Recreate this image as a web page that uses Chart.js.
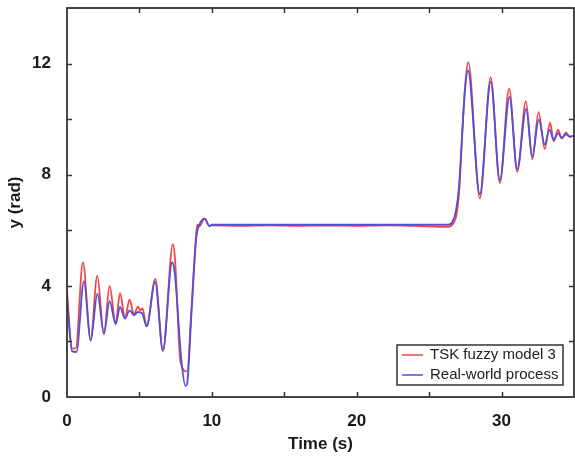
<!DOCTYPE html>
<html>
<head>
<meta charset="utf-8">
<script src="https://cdn.jsdelivr.net/npm/chart.js@4.4.1/dist/chart.umd.min.js"></script>
<style>
    html, body { margin: 0; padding: 0; background: #fff; }
    #wrap { width: 575px; height: 457px; }
</style>
</head>
<body>
<div id="wrap"><canvas id="chart"></canvas></div>
<script>
// 데이터
const tskTime = [0, 0.35, 0.6, 1.1, 1.63, 2.09, 2.55, 2.94, 3.36, 3.66, 4.0, 4.32, 4.62, 4.9, 5.05, 5.2, 5.5,
    6.1, 6.62, 7.31, 7.45, 7.84, 8.3, 8.58, 8.92, 9.0, 9.15, 9.5, 9.84, 10,
    12, 14, 16, 18, 20, 22, 24, 26.3,
    26.6, 26.9, 27.1, 27.3, 27.5, 27.7, 28.5, 29.25, 29.88, 30.52, 31.08, 31.68, 32.12, 32.55, 32.98,
    33.35, 33.6, 33.9, 34.15, 34.45, 34.7, 35];
const tskValues = [3.8, 1.75, 1.75, 4.85, 2.05, 4.37, 2.25, 4.0, 2.65, 3.74, 2.85, 3.5, 2.98, 3.25, 3.12, 3.2, 2.55,
    4.25, 1.65, 5.5, 5.0, 1.25, 0.92, 3.1, 5.9, 6.2, 6.15, 6.42, 6.15, 6.18,
    6.16, 6.18, 6.16, 6.17, 6.16, 6.18, 6.16, 6.12,
    6.2, 6.6, 7.6, 9.6, 11.3, 12.05, 7.15, 11.5, 7.7, 11.1, 8.1, 10.65, 8.55, 10.25, 8.93,
    9.87, 9.2, 9.62, 9.3, 9.52, 9.35, 9.42];

const realTime = [0, 0.35, 0.65, 1.17, 1.63, 2.1, 2.55, 2.94, 3.36, 3.66, 4.0, 4.32, 4.62, 4.9, 5.2, 5.5,
    6.08, 6.62, 7.26, 7.45, 7.9, 8.18, 8.3, 8.58, 8.92, 9.1, 9.5, 9.84, 10,
    12, 14, 16, 18, 20, 22, 24, 26.3,
    26.6, 26.85, 27.05, 27.25, 27.45, 27.68, 28.5, 29.25, 29.88, 30.55, 31.08, 31.7, 32.12, 32.57, 32.98,
    33.3, 33.6, 33.9, 34.15, 34.45, 34.7, 35];
const realValues = [3.55, 1.65, 1.62, 4.17, 2.02, 3.72, 2.29, 3.45, 2.62, 3.24, 2.82, 3.12, 2.94, 3.06, 3.0, 2.54,
    4.15, 1.68, 4.85, 4.4, 1.3, 0.4, 0.5, 2.9, 5.7, 6.15, 6.42, 6.15, 6.2,
    6.2, 6.2, 6.2, 6.2, 6.2, 6.2, 6.2, 6.2,
    6.3, 6.7, 7.5, 9.2, 10.9, 11.75, 7.3, 11.35, 7.8, 10.8, 8.2, 10.37, 8.66, 9.98, 9.08,
    9.62, 9.26, 9.5, 9.33, 9.45, 9.38, 9.4];

const seriesNames = ['TSK fuzzy model 3', 'Real-world process'];
const xTickLabels = [0, 10, 20, 30];
const yTickLabels = [0, 4, 8, 12];
const xTickMarks = [5, 10, 15, 20, 25, 30];
const yTickMarks = [2, 4, 6, 8, 10, 12];

const RED = '#f04646';
const BLUE = '#5050d8';
const FRAME = '#333333';
const FONT = "'Liberation Sans', Arial, sans-serif";

function toPoints(times, values) {
    return times.map((t, i) => ({ x: t, y: values[i] }));
}

// 테두리와 안쪽 눈금
const framePlugin = {
    id: 'frame',
    afterDatasetsDraw(chart) {
        const { ctx, chartArea: a, scales } = chart;
        ctx.save();
        ctx.strokeStyle = FRAME;
        ctx.lineWidth = 1.5;
        ctx.beginPath();
        xTickMarks.forEach(v => {
            const px = Math.round(scales.x.getPixelForValue(v)) + 0.5;
            ctx.moveTo(px, a.bottom); ctx.lineTo(px, a.bottom - 5);
            ctx.moveTo(px, a.top); ctx.lineTo(px, a.top + 5);
        });
        yTickMarks.forEach(v => {
            const py = Math.round(scales.y.getPixelForValue(v)) + 0.5;
            ctx.moveTo(a.left, py); ctx.lineTo(a.left + 5, py);
            ctx.moveTo(a.right, py); ctx.lineTo(a.right - 5, py);
        });
        ctx.stroke();
        ctx.lineWidth = 1.8;
        ctx.strokeRect(a.left, a.top, a.right - a.left, a.bottom - a.top);
        ctx.restore();
    }
};

// 범례 (오른쪽 아래, 플롯 안쪽)
const boxLegendPlugin = {
    id: 'boxLegend',
    afterDraw(chart) {
        const { ctx, chartArea: a } = chart;
        const w = 166, h = 40;
        const x0 = a.right - 11 - w;
        const y0 = a.bottom - 12 - h;
        ctx.save();
        ctx.fillStyle = '#fff';
        ctx.fillRect(x0, y0, w, h);
        ctx.strokeStyle = FRAME;
        ctx.lineWidth = 1.5;
        ctx.strokeRect(x0, y0, w, h);
        ctx.font = '15px ' + FONT;
        ctx.textBaseline = 'middle';
        ctx.fillStyle = '#222';
        chart.data.datasets.forEach((ds, i) => {
            const cy = y0 + 10 + i * 20;
            ctx.strokeStyle = ds.borderColor;
            ctx.lineWidth = 1.5;
            ctx.beginPath();
            ctx.moveTo(x0 + 5, cy);
            ctx.lineTo(x0 + 26, cy);
            ctx.stroke();
            ctx.fillText(ds.label, x0 + 33, cy);
        });
        ctx.restore();
    }
};

const chart = new Chart(document.getElementById('chart'), {
    type: 'line',
    data: {
        datasets: [{
            label: seriesNames[0],
            data: toPoints(tskTime, tskValues),
            borderColor: RED,
            borderWidth: 1.8,
            pointRadius: 0,
            cubicInterpolationMode: 'monotone',
            order: 1
        }, {
            label: seriesNames[1],
            data: toPoints(realTime, realValues),
            borderColor: BLUE,
            borderWidth: 1.8,
            pointRadius: 0,
            cubicInterpolationMode: 'monotone',
            order: 0
        }]
    },
    options: {
        responsive: true,
        maintainAspectRatio: false,
        animation: false,
        layout: { padding: { top: 8, right: 1, bottom: 0, left: 0 } },
        plugins: {
            legend: { display: false },
            tooltip: { enabled: false }
        },
        scales: {
            x: {
                type: 'linear',
                min: 0,
                max: 35,
                grid: { display: false },
                border: { display: false },
                afterBuildTicks: scale => { scale.ticks = xTickLabels.map(v => ({ value: v })); },
                afterFit: scale => {
                    scale.height = 60;
                    scale.paddingLeft = 0;
                    scale.paddingRight = 0;
                },
                ticks: {
                    maxRotation: 0,
                    padding: 6,
                    color: '#1a1a1a',
                    font: { family: FONT, size: 17, weight: 'bold' }
                },
                title: {
                    display: true,
                    text: 'Time (s)',
                    color: '#1a1a1a',
                    padding: { top: 0, bottom: 2 },
                    font: { family: FONT, size: 17, weight: 'bold' }
                }
            },
            y: {
                min: 0,
                max: 14,
                grid: { display: false },
                border: { display: false },
                afterBuildTicks: scale => { scale.ticks = yTickLabels.map(v => ({ value: v })); },
                afterFit: scale => {
                    scale.width = 67;
                    scale.paddingTop = 0;
                    scale.paddingBottom = 0;
                },
                ticks: {
                    padding: 8,
                    color: '#1a1a1a',
                    font: { family: FONT, size: 17, weight: 'bold' }
                },
                title: {
                    display: true,
                    text: 'y (rad)',
                    color: '#1a1a1a',
                    padding: { top: 5, bottom: 0 },
                    font: { family: FONT, size: 17, weight: 'bold' }
                }
            }
        }
    },
    plugins: [framePlugin, boxLegendPlugin]
});
</script>
</body>
</html>
